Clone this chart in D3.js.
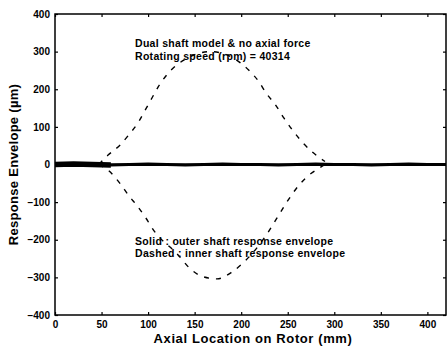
<!DOCTYPE html>
<html><head><meta charset="utf-8">
<script src="https://cdn.jsdelivr.net/npm/d3@7"></script>
<style>body{margin:0;background:#fff}svg{display:block}text{font-family:"Liberation Sans",Arial,sans-serif;fill:#000}</style>
</head><body>
<script>
const xTicks = [0,50,100,150,200,250,300,350,400];
const yTicks = [-400,-300,-200,-100,0,100,200,300,400];
const upperX = [47,57,70,79,90,97,104,111,120,140,167,190,208,219,227,237,246,255,265,276,290];
const upperY = [0,25,52,78,114,145,176,207,238,280,300,285,251,220,189,158,123,92,61,34,8];
const lowerX = [47,57,70,79,88,97,106,131,147,160,174,190,201,229,238,249,262,275,283,290];
const lowerY = [0,-15,-51,-82,-109,-140,-175,-237,-281,-299,-304,-286,-264,-180,-144,-100,-55,-24,-11,0];
const solidX = [0,20,40,60,80,100,120,140,160,180,200,220,240,260,280,300,320,340,360,380,400,420];
const solidY = [0,1,0,-1,0,1,0,-1,0,1,0,0,-1,0,1,0,0,-1,0,1,0,0];
const notes = ["Dual shaft model & no axial force","Rotating speed (rpm) = 40314"];
const legend = ["Solid : outer shaft response envelope","Dashed : inner shaft response envelope"];

const W=447,H=351, L=55, R=446, T=14, B=315;
const svg=d3.select("body").append("svg").attr("width",W).attr("height",H);
const x=d3.scaleLinear().domain([0,420]).range([L,R]);
const y=d3.scaleLinear().domain([-400,400]).range([B,T]);

const fs="10px";
svg.append("g").attr("transform",`translate(0,${B})`).call(d3.axisBottom(x).tickValues(xTicks).tickSize(-3).tickPadding(6).tickFormat(d3.format("d")))
  .call(g=>{g.select(".domain").remove();g.selectAll("text").attr("font-size",fs).attr("font-weight","bold");});
svg.append("g").attr("transform",`translate(${L},0)`).call(d3.axisLeft(y).tickValues(yTicks).tickSize(-3).tickPadding(5).tickFormat(d3.format("d")))
  .call(g=>{g.select(".domain").remove();g.selectAll("text").attr("font-size",fs).attr("font-weight","bold");});
svg.append("g").attr("transform",`translate(0,${T})`).call(d3.axisTop(x).tickValues(xTicks).tickSize(-3).tickFormat(""))
  .call(g=>g.select(".domain").remove());
svg.append("g").attr("transform",`translate(${R},0)`).call(d3.axisRight(y).tickValues(yTicks).tickSize(-3).tickFormat(""))
  .call(g=>g.select(".domain").remove());
svg.selectAll(".tick line").attr("stroke","#000").attr("stroke-width",1.2);
svg.append("rect").attr("x",L).attr("y",T).attr("width",R-L).attr("height",B-T).attr("fill","none").attr("stroke","#000").attr("stroke-width",1.5);

const line=d3.line().x(d=>x(d[0])).y(d=>y(d[1])).curve(d3.curveMonotoneX);
svg.append("path").attr("d",line(upperX.map((v,i)=>[v,upperY[i]]))).attr("fill","none").attr("stroke","#000").attr("stroke-width",1.4).attr("stroke-dasharray","5,7");
svg.append("path").attr("d",line(lowerX.map((v,i)=>[v,lowerY[i]]))).attr("fill","none").attr("stroke","#000").attr("stroke-width",1.4).attr("stroke-dasharray","5,7");
const sline=d3.line().x(d=>x(d[0])).y(d=>y(d[1]));
svg.append("path").attr("d",sline(solidX.map((v,i)=>[v,solidY[i]]))).attr("fill","none").attr("stroke","#000").attr("stroke-width",3.2);
svg.append("path").attr("d",sline(solidX.slice(0,4).map((v,i)=>[v,solidY[i]]))).attr("fill","none").attr("stroke","#000").attr("stroke-width",5.5);

notes.forEach((t,i)=>svg.append("text").attr("x",135).attr("y",47+i*13).attr("font-size","10.5px").attr("letter-spacing","0.3px").attr("font-weight","bold").text(t));
legend.forEach((t,i)=>svg.append("text").attr("x",135).attr("y",245+i*12).attr("font-size","10.5px").attr("letter-spacing","0.3px").attr("font-weight","bold").text(t));

svg.append("text").attr("x",253).attr("y",343).attr("text-anchor","middle").attr("font-size","13px").attr("letter-spacing","0.6px").attr("font-weight","bold").text("Axial Location on Rotor (mm)");
svg.append("text").attr("transform",`translate(18,${(T+B)/2}) rotate(-90)`).attr("text-anchor","middle").attr("font-size","13px").attr("letter-spacing","0.3px").attr("font-weight","bold").text("Response Envelope (µm)");
</script>
</body></html>
